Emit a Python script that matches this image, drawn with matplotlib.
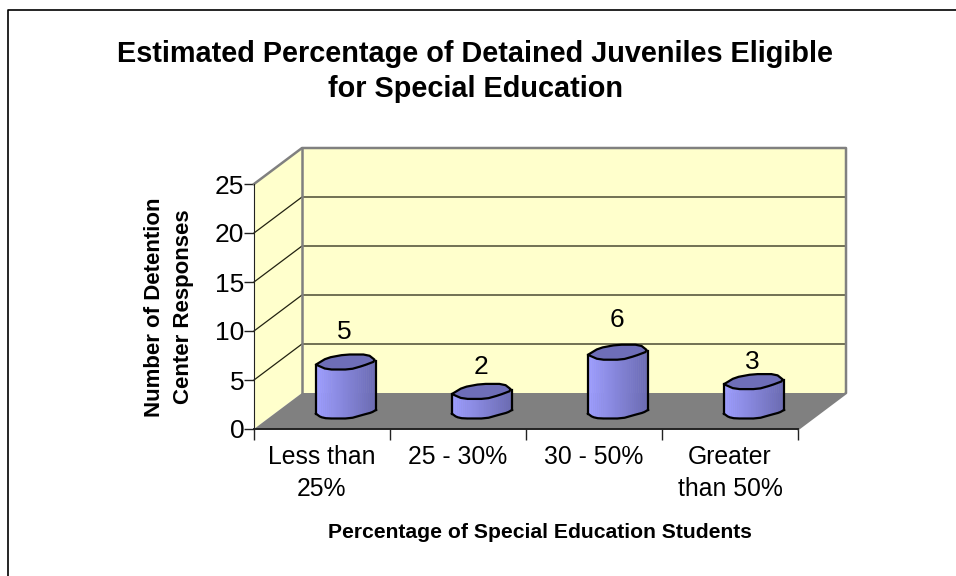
import numpy as np
import matplotlib
matplotlib.use("Agg")
import matplotlib.pyplot as plt
from matplotlib.patches import Polygon

plt.rcParams['font.family'] = ['Liberation Sans', 'DejaVu Sans']

categories = ["Less than\n25%", "25 - 30%", "30 - 50%", "Greater\nthan 50%"]
values = [5, 2, 6, 3]
y_ticks = [0, 5, 10, 15, 20, 25]
title = "Estimated Percentage of Detained Juveniles Eligible\nfor Special Education"
x_title = "Percentage of Special Education Students"
y_title = "Number of Detention\nCenter Responses"

W, H = 956, 576
# depth of the fake 3d box, in data units
DX = 48 / 136
DY = 36 / 9.8
BAR_W = 0.45
EY = 7.5 / 9.8
# labels do not sit at a fixed distance in the original
label_nudge = [3.1, 2.5, 3.3, 2.0]


def chaikin(xs, ys, n=1):
    # round off the corners of the lumpy outline
    p = np.column_stack([xs, ys])
    for _ in range(n):
        q = [p[0]]
        for a, b in zip(p[:-1], p[1:]):
            q.append(0.8 * a + 0.2 * b)
            q.append(0.2 * a + 0.8 * b)
        q.append(p[-1])
        p = np.array(q)
    return p[:, 0], p[:, 1]


fig = plt.figure(figsize=(W / 100, H / 100), dpi=100)
ax = fig.add_axes([254 / W, 1 - 429 / H, 544 / W, 245 / H])
ax.set_xlim(0, 4)
ax.set_ylim(0, 25)
ax.set_facecolor('none')
for s in ax.spines.values():
    s.set_visible(False)

# only the left and top edge of the frame are in the picture
fig.add_artist(plt.Line2D([8 / W, 8 / W, 1], [0, 1 - 9.5 / H, 1 - 9.5 / H], color='black', lw=1.2,
                          transform=fig.transFigure))

# walls and floor
ax.add_patch(Polygon([(0, 0), (DX, DY), (DX, 25 + DY), (0, 25)], fc='#FFFFCC', ec='none', clip_on=False))
ax.add_patch(Polygon([(DX, DY), (4 + DX, DY), (4 + DX, 25 + DY), (DX, 25 + DY)], fc='#FFFFCC', ec='none', clip_on=False))
ax.add_patch(Polygon([(0, 0), (4, 0), (4 + DX, DY), (DX, DY)], fc='#808080', ec='none', clip_on=False))

for v in y_ticks[1:-1]:
    ax.plot([0, DX, 4 + DX], [v, v + DY, v + DY], color='#222211', lw=0.9, clip_on=False, zorder=2)
ax.plot([0, DX, 4 + DX, 4 + DX, 4], [25, 25 + DY, 25 + DY, DY, 0], color='#808080', lw=1.8, clip_on=False, zorder=2)
ax.plot([DX, DX], [DY, 25 + DY], color='#808080', lw=1.8, clip_on=False, zorder=2)

# lumpy bar outline, offsets as fractions of half width / half depth
top_x = np.array([-1, -0.63, -0.03, 0.73, 1, 0.57, 0.13, -0.63, -1])
top_y = np.array([0.35, -0.55, -1, -1, -0.15, 0.5, 1, 1, 0.35])
low_x = np.array([-1, -0.85, -0.63, 0.13, 0.57, 0.85, 1])
low_y = np.array([0.35, 0.8, 1, 1, 0.5, 0.2, -0.15])
smooth_tx, smooth_ty = chaikin(top_x, top_y)
smooth_lx, smooth_ly = chaikin(low_x, low_y)

for i, v in enumerate(values):
    cx = i + 0.5 + DX / 2
    base = DY / 2
    top = v + base
    hw = BAR_W / 2 * 60 / 61
    edges = np.linspace(-1, 1, 31)
    for a, b in zip(edges[:-1], edges[1:]):
        t = ((a + b) / 2 + 1) / 2
        col = (0.62 - 0.2 * t, 0.62 - 0.2 * t, 1 - 0.3 * t)
        ya = np.interp(a, smooth_lx, smooth_ly) * EY
        yb = np.interp(b, smooth_lx, smooth_ly) * EY
        ax.add_patch(Polygon([(cx + a * hw, base - ya), (cx + b * hw, base - yb),
                              (cx + b * hw, top - yb), (cx + a * hw, top - ya)],
                             fc=col, ec=col, lw=0.3, clip_on=False, zorder=3))
    ax.plot(cx + smooth_lx * hw, base - smooth_ly * EY, color='black', lw=1.6, clip_on=False, zorder=4)
    ax.plot([cx - hw, cx - hw], [base - low_y[0] * EY, top - low_y[0] * EY], color='black', lw=1.6, clip_on=False, zorder=4)
    ax.plot([cx + hw, cx + hw], [base - low_y[-1] * EY, top - low_y[-1] * EY], color='black', lw=1.6, clip_on=False, zorder=4)
    ax.add_patch(Polygon(np.column_stack([cx + smooth_tx * hw, top - smooth_ty * EY]), fc='#6E6EB8', ec='black',
                         lw=1.6, joinstyle='round', clip_on=False, zorder=5))
    ax.text(cx - 0.01, top + label_nudge[i], str(v), ha='center', va='center', fontsize=19, zorder=6)

ax.set_xticks(range(5))
ax.set_xticklabels([])
ax.set_yticks(y_ticks)
ax.tick_params(axis='x', length=8, width=1, color='#222222')
ax.tick_params(axis='y', length=7, width=1, color='#222222', labelsize=19, pad=0)
ax.spines['left'].set_visible(True)
ax.spines['left'].set_color('#222222')
ax.spines['bottom'].set_visible(True)
ax.spines['bottom'].set_color('#222222')
ax.spines['bottom'].set_linewidth(1.4)

for i, c in enumerate(categories):
    ax.text(i + 0.5, -1.6, c, ha='center', va='top', fontsize=17.8, linespacing=1.45)

fig.text(475 / W, 1 - 71.5 / H, title, ha='center', va='center', fontsize=20.8, fontweight='bold', linespacing=1.3)
fig.text(539.5 / W, 1 - 533 / H, x_title, ha='center', va='center', fontsize=15.2, fontweight='bold')
fig.text(169.5 / W, 1 - 307 / H, y_title, ha='center', va='center', rotation=90, fontsize=16, fontweight='bold', linespacing=1.5)

fig.savefig("out.png", dpi=100)
